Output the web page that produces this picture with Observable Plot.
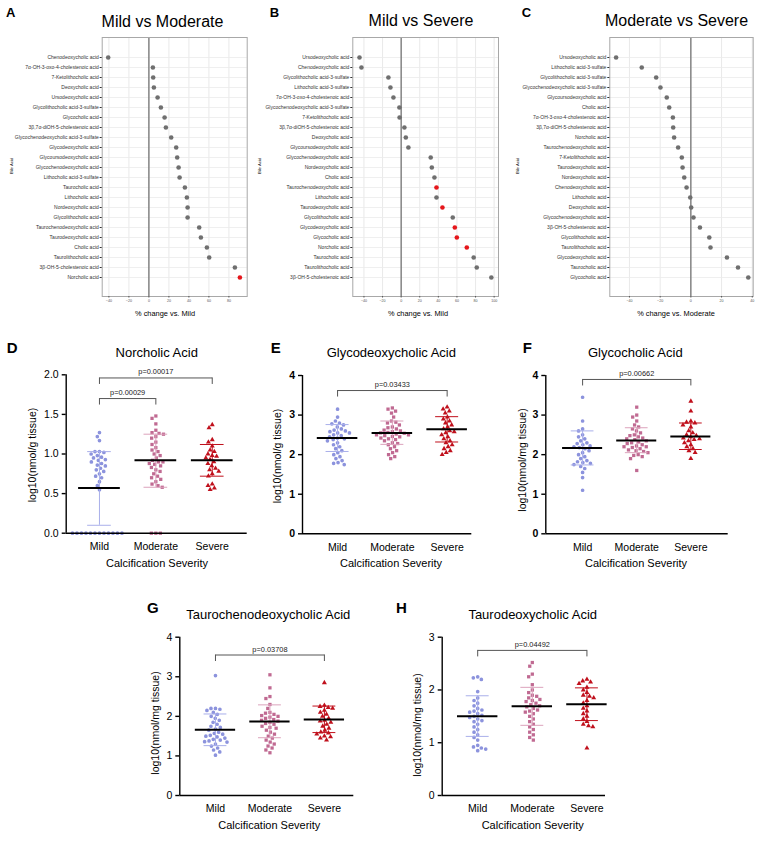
<!DOCTYPE html>
<html><head><meta charset="utf-8">
<script src="https://cdn.jsdelivr.net/npm/d3@7"></script>
<script src="https://cdn.jsdelivr.net/npm/@observablehq/plot@0.6"></script>
<style>
html,body{margin:0;padding:0;background:#fff;}
#root{position:relative;width:759px;height:842px;overflow:hidden;font-family:"Liberation Sans",Arial,Helvetica,sans-serif;background:#fff;}
#root svg{position:absolute;overflow:visible;max-width:none;}
</style></head><body><div id="root"></div>
<script>
// ---------------- DATA: top row (% change) ----------------
const namesA = ["Chenodeoxycholic acid","7α-OH-3-oxo-4-cholestenoic acid","7-Ketolithocholic acid","Deoxycholic acid","Ursodeoxycholic acid","Glycolithocholic acid-3-sulfate","Glycocholic acid","3β,7α-diOH-5-cholestenoic acid","Glycochenodeoxycholic acid-3-sulfate","Glycodeoxycholic acid","Glycoursodeoxycholic acid","Glycochenodeoxycholic acid","Lithocholic acid-3-sulfate","Taurocholic acid","Lithocholic acid","Nordeoxycholic acid","Glycolithocholic acid","Taurochenodeoxycholic acid","Taurodeoxycholic acid","Cholic acid","Taurolithocholic acid","3β-OH-5-cholestenoic acid","Norcholic acid"];
const valuesA = [-40.7,4.0,4.3,5.0,8.7,12.0,15.7,17.0,22.3,27.3,28.3,29.7,30.7,36.0,38.0,38.7,38.7,50.3,52.0,58.0,60.3,86.0,91.0];
const redA = ["Norcholic acid"];

const namesB = ["Ursodeoxycholic acid","Chenodeoxycholic acid","Glycolithocholic acid-3-sulfate","Lithocholic acid-3-sulfate","7α-OH-3-oxo-4-cholestenoic acid","Glycochenodeoxycholic acid-3-sulfate","7-Ketolithocholic acid","3β,7α-diOH-5-cholestenoic acid","Deoxycholic acid","Glycoursodeoxycholic acid","Glycochenodeoxycholic acid","Nordeoxycholic acid","Cholic acid","Taurochenodeoxycholic acid","Lithocholic acid","Taurodeoxycholic acid","Glycolithocholic acid","Glycodeoxycholic acid","Glycocholic acid","Norcholic acid","Taurocholic acid","Taurolithocholic acid","3β-OH-5-cholestenoic acid"];
const valuesB = [-44.8,-42.7,-13.7,-11.5,-8.3,-1.9,-1.7,3.5,5.0,7.8,31.8,33.0,35.8,38.0,38.0,44.4,55.5,57.7,59.9,70.6,78.0,81.3,97.0];
const redB = ["Taurochenodeoxycholic acid","Taurodeoxycholic acid","Glycodeoxycholic acid","Glycocholic acid","Norcholic acid"];

const namesC = ["Ursodeoxycholic acid","Lithocholic acid-3-sulfate","Glycolithocholic acid-3-sulfate","Glycochenodeoxycholic acid-3-sulfate","Glycoursodeoxycholic acid","Cholic acid","7α-OH-3-oxo-4-cholestenoic acid","3β,7α-diOH-5-cholestenoic acid","Norcholic acid","Taurochenodeoxycholic acid","7-Ketolithocholic acid","Taurodeoxycholic acid","Nordeoxycholic acid","Chenodeoxycholic acid","Lithocholic acid","Deoxycholic acid","Glycochenodeoxycholic acid","3β-OH-5-cholestenoic acid","Glycolithocholic acid","Taurolithocholic acid","Glycodeoxycholic acid","Taurocholic acid","Glycocholic acid"];
const valuesC = [-48.7,-32.0,-22.6,-19.8,-15.7,-14.1,-11.7,-11.5,-10.9,-8.3,-5.9,-5.4,-4.3,-2.8,-0.4,0.2,1.7,5.9,12.0,12.8,23.5,30.7,37.4];
const redC = [];

const ticksA = [-40,-20,0,20,40,60,80];
const ticksB = [-40,-20,0,20,40,60,80,100];
const ticksC = [-40,-20,0,20,40];

// ---------------- DATA: scatter panels ----------------
const groups = ["Mild","Moderate","Severe"];

const dMild = [1.27,1.22,1.17,1.03,1.03,1.02,1.00,0.98,0.96,0.95,0.93,0.92,0.90,0.88,0.86,0.85,0.82,0.80,0.78,0.75,0.72,0.70,0.65,0.60,0.55,0,0,0,0,0,0,0,0,0,0,0,0];
const dModerate = [1.48,1.45,1.38,1.30,1.27,1.26,1.25,1.22,1.20,1.15,1.12,1.08,1.05,1.03,1.00,0.98,0.95,0.92,0.90,0.90,0.88,0.87,0.85,0.83,0.80,0.78,0.75,0.72,0.70,0.68,0.65,0.62,0.60,0.58,0,0,0];
const dSevere = [1.37,1.33,1.18,1.15,1.10,1.05,1.03,1.00,0.98,0.97,0.95,0.93,0.90,0.88,0.85,0.82,0.80,0.78,0.75,0.72,0.62,0.60,0.57,0.55];
const dMean = [0.57,0.92,0.92], dLo = [0.10,0.58,0.72], dHi = [1.03,1.25,1.12];

const eMild = [3.15,2.95,2.85,2.80,2.78,2.75,2.70,2.65,2.62,2.60,2.58,2.55,2.55,2.50,2.48,2.45,2.42,2.40,2.38,2.35,2.30,2.25,2.20,2.15,2.10,2.05,2.00,1.95,1.90,1.85,1.80,1.78,1.75];
const eModerate = [3.18,3.15,3.10,3.05,2.95,2.85,2.82,2.80,2.75,2.70,2.68,2.65,2.62,2.60,2.58,2.56,2.55,2.54,2.52,2.50,2.50,2.48,2.46,2.45,2.42,2.40,2.38,2.35,2.30,2.28,2.25,2.20,2.15,2.10,2.05,2.00,1.95,1.90];
const eSevere = [3.20,3.15,3.10,3.05,2.95,2.90,2.85,2.80,2.75,2.70,2.65,2.60,2.58,2.55,2.50,2.45,2.40,2.35,2.30,2.25,2.20,2.15,2.10,2.05,2.00];
const eMean = [2.42,2.55,2.64], eLo = [2.08,2.26,2.32], eHi = [2.76,2.85,2.96];

const fMild = [3.45,2.85,2.65,2.60,2.50,2.45,2.40,2.35,2.30,2.28,2.25,2.22,2.20,2.18,2.15,2.10,2.05,2.00,1.95,1.90,1.85,1.82,1.80,1.78,1.75,1.70,1.65,1.55,1.42,1.10];
const fModerate = [3.20,3.00,2.95,2.85,2.75,2.70,2.65,2.60,2.55,2.50,2.48,2.45,2.42,2.40,2.38,2.35,2.32,2.30,2.28,2.25,2.22,2.20,2.20,2.18,2.15,2.12,2.10,2.08,2.05,2.00,1.98,1.95,1.90,1.60];
const fSevere = [3.35,3.10,2.85,2.82,2.80,2.75,2.70,2.60,2.55,2.50,2.48,2.45,2.42,2.40,2.38,2.35,2.30,2.25,2.20,2.15,2.10,2.05,1.90];
const fMean = [2.17,2.36,2.46], fLo = [1.74,2.05,2.13], fHi = [2.60,2.68,2.80];

const gMild = [3.03,2.20,2.20,2.18,2.15,2.10,2.05,2.00,1.95,1.90,1.85,1.80,1.75,1.72,1.68,1.65,1.60,1.57,1.55,1.52,1.50,1.48,1.45,1.42,1.40,1.38,1.36,1.35,1.30,1.25,1.20,1.15,1.10,1.02];
const gModerate = [3.05,2.72,2.50,2.45,2.30,2.20,2.10,2.08,2.05,2.02,2.00,1.98,1.95,1.92,1.90,1.88,1.85,1.82,1.80,1.75,1.72,1.70,1.65,1.60,1.55,1.50,1.45,1.40,1.35,1.30,1.25,1.20,1.15,1.08];
const gSevere = [2.85,2.28,2.25,2.22,2.20,2.15,2.10,2.05,2.00,1.95,1.90,1.88,1.85,1.80,1.75,1.70,1.65,1.60,1.58,1.55,1.50,1.48,1.45,1.40];
const gMean = [1.66,1.87,1.92], gLo = [1.26,1.46,1.59], gHi = [2.06,2.29,2.26];

const hMild = [2.25,2.23,2.20,1.97,1.85,1.80,1.75,1.70,1.65,1.62,1.60,1.58,1.55,1.52,1.50,1.48,1.45,1.42,1.40,1.35,1.30,1.25,1.20,1.15,1.10,1.05,0.95,0.92,0.90,0.88,0.85];
const hModerate = [2.52,2.45,2.30,2.25,2.10,2.00,1.95,1.90,1.88,1.85,1.82,1.80,1.78,1.75,1.72,1.70,1.68,1.65,1.62,1.60,1.58,1.55,1.50,1.45,1.40,1.35,1.30,1.25,1.20,1.15,1.10,1.05];
const hSevere = [2.20,2.17,2.15,2.12,2.05,2.00,1.95,1.90,1.88,1.85,1.80,1.75,1.70,1.65,1.60,1.55,1.50,1.45,1.40,1.35,1.32,1.30,0.90];
const hMean = [1.50,1.69,1.73], hLo = [1.12,1.33,1.42], hHi = [1.89,2.05,2.04];

// p-value brackets
const dBrFrom = ["Mild","Mild"], dBrTo = ["Moderate","Severe"], dBrY = [1.70,1.96], dBrP = ["p=0.00029","p=0.00017"];
const eBrFrom = ["Mild"], eBrTo = ["Severe"], eBrY = [3.62], eBrP = ["p=0.03433"];
const fBrFrom = ["Mild"], fBrTo = ["Severe"], fBrY = [3.90], fBrP = ["p=0.00662"];
const gBrFrom = ["Mild"], gBrTo = ["Severe"], gBrY = [3.55], gBrP = ["p=0.03708"];
const hBrFrom = ["Mild"], hBrTo = ["Severe"], hBrY = [2.75], hBrP = ["p=0.04492"];

// ---------------- STYLE ----------------
const FONT = '"Liberation Sans", Arial, Helvetica, sans-serif';
const GREY = "#6f6f6f", RED = "#e5161b";
const DOTC = ["#8c93dd","#c06a92","#c0101c"];
const BARC = ["#a9afea","#dca3bc","#c0101c"];
const SYM = ["circle","square","triangle"];
const root = document.getElementById("root");

function place(svg, left, top) {
  svg.style.left = left + "px";
  svg.style.top = top + "px";
  root.appendChild(svg);
}

function forest(names, values, reds, domain, ticks, left, ml, mr) {
  const rows = names.map((name, i) => ({name, value: values[i], sig: reds.includes(name)}));
  const svg = Plot.plot({
    width: 253, height: 330, marginLeft: ml, marginRight: mr, marginTop: 37, marginBottom: 34,
    style: {background: "transparent", fontFamily: FONT, overflow: "visible"},
    x: {domain, ticks},
    y: {type: "point", domain: names, padding: 1},
    marks: [
      Plot.gridX({ticks, stroke: "#e3e3e3", strokeOpacity: 1, strokeWidth: 0.8}),
      Plot.gridY({stroke: "#ebebeb", strokeOpacity: 1, strokeWidth: 0.8}),
      Plot.ruleX([0], {stroke: "#6b6b6b", strokeWidth: 1.2}),
      Plot.frame({stroke: "#a8a8a8", strokeWidth: 1}),
      Plot.axisY({tickSize: 2, tickPadding: 1.4, fontSize: 5, color: "#333", label: null}),
      Plot.axisX({ticks, tickSize: 1.5, tickPadding: 1.5, fontSize: 3.6, color: "#555", label: null}),
      Plot.dot(rows.filter(d => !d.sig), {x: "value", y: "name", r: 2.3, fill: GREY}),
      Plot.dot(rows.filter(d => d.sig), {x: "value", y: "name", r: 2.3, fill: RED})
    ]
  });
  place(svg, left, 0);
}

function scatter(c) {
  const innerW = c.W - c.ml - c.mr;
  const px = v => c.ml + (v - c.xd[0]) / (c.xd[1] - c.xd[0]) * innerW;
  const pts = groups.flatMap((g, i) => c.series[i].map(v => ({g, v})));
  const common = {width: c.W, height: c.H, marginLeft: c.ml, marginRight: c.mr, marginTop: c.mt, marginBottom: c.mb,
    style: {background: "transparent", fontFamily: FONT, overflow: "visible", color: "#000"}};
  // layer 1: beeswarm points
  const dots = Plot.plot({
    ...common,
    fx: {domain: groups, range: [px(-0.5), px(2.5)], padding: 0, round: false, axis: null, label: null},
    y: {domain: c.yd, axis: null},
    symbol: {domain: groups, range: SYM},
    color: {domain: groups, range: DOTC},
    marks: [
      Plot.dot(pts, Plot.dodgeX({anchor: "middle", padding: 0.8}, {fx: "g", y: "v", r: 1.85, symbol: "g", fill: "g"}))
    ]
  });
  place(dots, c.left, c.top);
  // layer 2: axes, mean, SD, brackets
  const stats = groups.map((g, i) => ({i, mean: c.mean[i], lo: c.lo[i], hi: c.hi[i]}));
  const br = c.brFrom.map((f, k) => ({a: groups.indexOf(f), b: groups.indexOf(c.brTo[k]), y: c.brY[k], p: c.brP[k]}));
  const brEnds = br.flatMap(d => [{x: d.a, y: d.y}, {x: d.b, y: d.y}]);
  const errMarks = [];
  stats.forEach(s => {
    const col = BARC[s.i];
    errMarks.push(Plot.ruleX([s], {x: "i", y1: "lo", y2: "hi", stroke: col, strokeWidth: 1}));
    errMarks.push(Plot.ruleY([s], {y: "lo", x1: d => d.i - 0.21, x2: d => d.i + 0.21, stroke: col, strokeWidth: 1}));
    errMarks.push(Plot.ruleY([s], {y: "hi", x1: d => d.i - 0.21, x2: d => d.i + 0.21, stroke: col, strokeWidth: 1}));
  });
  const top = Plot.plot({
    ...common,
    x: {domain: c.xd},
    y: {domain: c.yd},
    marks: [
      ...errMarks,
      Plot.ruleY(stats, {y: "mean", x1: d => d.i - 0.37, x2: d => d.i + 0.37, stroke: "#000", strokeWidth: 2}),
      Plot.ruleX([c.xd[0]], {stroke: "#000", strokeWidth: 1.4}),
      Plot.ruleY([c.yd[0]], {stroke: "#000", strokeWidth: 1.4}),
      Plot.axisY({ticks: c.yt, tickFormat: c.yf, tickSize: 4, tickPadding: 3.5, fontSize: 10.5, fontWeight: c.bold ? "bold" : "normal", strokeWidth: 1.4, color: "#000", label: null}),
      Plot.axisX({ticks: [0, 1, 2], tickFormat: d => groups[d], tickSize: 0, tickPadding: 9.5, fontSize: 10.5, color: "#000", label: null}),
      Plot.link(br, {x1: "a", x2: "b", y1: "y", y2: "y", stroke: "#555", strokeWidth: 1}),
      Plot.ruleX(brEnds, {x: "x", y1: "y", y2: "y", insetBottom: -6.5, stroke: "#555", strokeWidth: 1}),
      Plot.text(br, {x: d => (d.a + d.b) / 2, y: "y", text: "p", dy: -3.5, lineAnchor: "bottom", fontSize: 7.4, fill: "#222"})
    ]
  });
  place(top, c.left, c.top);
}

// ---------------- TOP ROW ----------------
forest(namesA, valuesA, redA, [-46.7, 98.3], ticksA, 0, 101.7, 6.3);
forest(namesB, valuesB, redB, [-52, 104.7], ticksB, 253, 99.3, 8);
forest(namesC, valuesC, redC, [-52.8, 40.6], ticksC, 506, 103.3, 6.3);

// ---------------- BOTTOM PANELS ----------------
const f1 = d3.format(".1f"), f0 = d3.format("d");
scatter({left: 0, top: 330, W: 253, H: 240, ml: 65.7, mr: 6.3, mt: 44.3, mb: 37.3, xd: [-0.59, 2.62], yd: [0, 2], yt: [0, 0.5, 1, 1.5, 2], yf: f1, bold: false,
  series: [dMild, dModerate, dSevere], mean: dMean, lo: dLo, hi: dHi, brFrom: dBrFrom, brTo: dBrTo, brY: dBrY, brP: dBrP});
scatter({left: 253, top: 330, W: 253, H: 240, ml: 49, mr: 34.7, mt: 45, mb: 36.7, xd: [-0.64, 2.45], yd: [0, 4], yt: [0, 1, 2, 3, 4], yf: f0, bold: true,
  series: [eMild, eModerate, eSevere], mean: eMean, lo: eLo, hi: eHi, brFrom: eBrFrom, brTo: eBrTo, brY: eBrY, brP: eBrP});
scatter({left: 506, top: 330, W: 253, H: 240, ml: 39.3, mr: 31.3, mt: 45, mb: 36.7, xd: [-0.68, 2.69], yd: [0, 4], yt: [0, 1, 2, 3, 4], yf: f0, bold: true,
  series: [fMild, fModerate, fSevere], mean: fMean, lo: fLo, hi: fHi, brFrom: fBrFrom, brTo: fBrTo, brY: fBrY, brP: fBrP});
scatter({left: 140, top: 590, W: 250, H: 250, ml: 39.3, mr: 36.7, mt: 46.7, mb: 45, xd: [-0.655, 2.54], yd: [0, 4], yt: [0, 1, 2, 3, 4], yf: f0, bold: false,
  series: [gMild, gModerate, gSevere], mean: gMean, lo: gLo, hi: gHi, brFrom: gBrFrom, brTo: gBrTo, brY: gBrY, brP: gBrP});
scatter({left: 390, top: 590, W: 250, H: 250, ml: 51.7, mr: 35, mt: 46.7, mb: 45, xd: [-0.65, 2.34], yd: [0, 3], yt: [0, 1, 2, 3], yf: f0, bold: false,
  series: [hMild, hModerate, hSevere], mean: hMean, lo: hLo, hi: hHi, brFrom: hBrFrom, brTo: hBrTo, brY: hBrY, brP: hBrP});

// ---------------- TEXT OVERLAY ----------------
const texts = [
  // [text, x, y(baseline), size, weight, anchor, rotate]
  ["A", 6, 17.3, 13, "bold", "start", 0],
  ["Mild vs Moderate", 162.5, 26.7, 16, "normal", "middle", 0],
  ["B", 269.7, 17.3, 13, "bold", "start", 0],
  ["Mild vs Severe", 421, 26.2, 16, "normal", "middle", 0],
  ["C", 521.7, 17.3, 13, "bold", "start", 0],
  ["Moderate vs Severe", 676.5, 26.2, 16, "normal", "middle", 0],
  ["Bile Acid", 12.5, 166, 4.2, "normal", "middle", -90],
  ["Bile Acid", 260.5, 166, 4.2, "normal", "middle", -90],
  ["Bile Acid", 519, 166, 4.2, "normal", "middle", -90],
  ["% change vs. Mild", 165, 316, 7.4, "normal", "middle", 0],
  ["% change vs. Mild", 418, 316, 7.4, "normal", "middle", 0],
  ["% change vs. Moderate", 676, 316, 7.4, "normal", "middle", 0],

  ["D", 6.7, 353.3, 15, "bold", "start", 0],
  ["Norcholic Acid", 156.7, 356.7, 13, "normal", "middle", 0],
  ["log10(nmol/g tissue)", 35.5, 455, 10.5, "normal", "middle", -90],
  ["Calcification Severity", 157, 566.5, 11, "normal", "middle", 0],

  ["E", 270.7, 353.3, 15, "bold", "start", 0],
  ["Glycodeoxycholic Acid", 391.3, 356.7, 13, "normal", "middle", 0],
  ["log10(nmol/g tissue)", 281, 456, 10.5, "normal", "middle", -90],
  ["Calcification Severity", 391, 566.5, 11, "normal", "middle", 0],

  ["F", 522.7, 353.3, 15, "bold", "start", 0],
  ["Glycocholic Acid", 635.3, 356.7, 13, "normal", "middle", 0],
  ["log10(nmol/mg tissue)", 525.5, 460, 10.5, "normal", "middle", -90],
  ["Calcification Severity", 636, 566.5, 11, "normal", "middle", 0],

  ["G", 147, 613.3, 15, "bold", "start", 0],
  ["Taurochenodeoxycholic Acid", 268.3, 619.3, 13, "normal", "middle", 0],
  ["log10(nmol/mg tissue)", 158.5, 723, 10.5, "normal", "middle", -90],
  ["Calcification Severity", 269.3, 829, 11, "normal", "middle", 0],

  ["H", 396, 613.3, 15, "bold", "start", 0],
  ["Taurodeoxycholic Acid", 532.7, 619.3, 13, "normal", "middle", 0],
  ["log10(nmol/mg tissue)", 421, 725, 10.5, "normal", "middle", -90],
  ["Calcification Severity", 532.7, 829, 11, "normal", "middle", 0]
];
const ov = d3.create("svg").attr("width", 759).attr("height", 842)
  .style("left", "0px").style("top", "0px").style("pointer-events", "none")
  .attr("font-family", FONT);
ov.selectAll("text").data(texts).join("text")
  .attr("transform", d => `translate(${d[1]},${d[2]}) rotate(${d[6]})`)
  .attr("font-size", d => d[3])
  .attr("font-weight", d => d[4])
  .attr("text-anchor", d => d[5])
  .attr("fill", "#000")
  .text(d => d[0]);
root.appendChild(ov.node());
</script>
</body></html>
